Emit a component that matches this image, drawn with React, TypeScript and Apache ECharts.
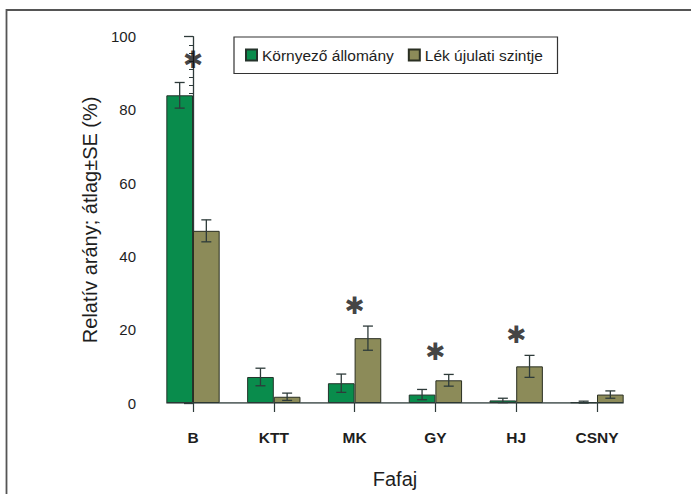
import React, { useEffect, useRef } from "react";
import * as echarts from "echarts";

const categories = ["B", "KTT", "MK", "GY", "HJ", "CSNY"];
const seriesNames = ["Környező állomány", "Lék újulati szintje"];
const surroundMean = [84, 7.1, 5.4, 2.3, 0.7, 0.2];
const surroundSE = [3.5, 2.4, 2.5, 1.4, 0.6, 0.3];
const gapMean = [47, 1.7, 17.7, 6.2, 10.0, 2.3];
const gapSE = [3.0, 1.0, 3.3, 1.6, 3.0, 1.0];
const starCategories = [0, 2, 3, 4];
const starLevels = [93.6, 26.6, 14.0, 18.7];
const yTicks = { min: 0, max: 100, interval: 20 };

const GREEN = "#098c4c";
const OLIVE = "#8c8b59";
const DARK = "#2e3b3a";
const TEXT = "#1e1e1e";
const SANS = "'Liberation Sans', Arial, sans-serif";
const GAP = 0.34;

export default function App() {
  const ref = useRef<HTMLDivElement>(null);
  useEffect(() => {
    if (!ref.current) return;
    const chart = echarts.init(ref.current, null, { renderer: "svg" });

    const errSeries = (means: number[], ses: number[], side: number) => ({
      type: "custom",
      xAxisIndex: 0,
      yAxisIndex: 0,
      silent: true,
      z: 5,
      data: means.map((m, i) => [i, m, ses[i]]),
      encode: { x: 0, y: 1 },
      renderItem: (params: any, api: any) => {
        const idx = api.value(0);
        const m = api.value(1);
        const se = api.value(2);
        const c = api.coord([idx, m]);
        const band = api.size([1, 0])[0];
        const bw = (band * (1 - GAP)) / 2;
        const x = c[0] + (side * bw) / 2;
        const yTop = api.coord([idx, m + se])[1];
        const yBot = api.coord([idx, Math.max(0, m - se)])[1];
        const hw = 5;
        const st = { stroke: DARK, lineWidth: 1.3 };
        return {
          type: "group",
          children: [
            { type: "line", shape: { x1: x, y1: yTop, x2: x, y2: yBot }, style: st },
            { type: "line", shape: { x1: x - hw, y1: yTop, x2: x + hw, y2: yTop }, style: st },
            { type: "line", shape: { x1: x - hw, y1: yBot, x2: x + hw, y2: yBot }, style: st },
          ],
        };
      },
    });

    chart.setOption({
      animation: false,
      backgroundColor: "#ffffff",
      graphic: [
        {
          type: "rect",
          shape: { x: 6.5, y: 10, width: 720, height: 520 },
          style: { fill: "none", stroke: "#555555", lineWidth: 1.8 },
          silent: true,
        },
        {
          type: "rect",
          shape: { x: 234, y: 37, width: 323.5, height: 36.5 },
          style: { fill: "none", stroke: "#333333", lineWidth: 1.2 },
          silent: true,
        },
      ],
      legend: {
        data: seriesNames,
        left: 245,
        top: 47,
        padding: 0,
        itemWidth: 11,
        itemHeight: 11,
        itemGap: 14,
        icon: "rect",
        textStyle: { fontFamily: SANS, fontSize: 15.5, color: TEXT },
      },
      grid: { left: 152.6, right: 53.6, top: 36.7, bottom: 88.3, containLabel: false },
      xAxis: [
        {
          type: "category",
          data: categories,
          boundaryGap: true,
          axisLine: { show: false },
          axisTick: { show: true, alignWithLabel: true, length: 9, lineStyle: { color: DARK, width: 1.2 } },
          axisLabel: { margin: 26, fontFamily: SANS, fontWeight: "bold", fontSize: 15.5, color: TEXT },
          name: "Fafaj",
          nameLocation: "middle",
          nameGap: 66,
          nameTextStyle: { fontFamily: SANS, fontSize: 20, color: TEXT },
          splitLine: { show: false },
        },
        { type: "value", min: -0.5, max: 5.5, show: false },
      ],
      yAxis: {
        type: "value",
        min: yTicks.min,
        max: yTicks.max,
        interval: yTicks.interval,
        offset: 4.6,
        axisLine: { show: true, lineStyle: { color: DARK, width: 1.3 } },
        axisTick: { show: true, length: 9, lineStyle: { color: DARK, width: 1.3 } },
        minorTick: { show: true, splitNumber: 9, length: 4, lineStyle: { color: DARK, width: 1 } },
        axisLabel: { margin: 12, fontFamily: SANS, fontSize: 15, color: TEXT },
        splitLine: { show: false },
        name: "Relatív arány; átlag±SE (%)",
        nameLocation: "middle",
        nameGap: 48,
        nameTextStyle: { fontFamily: SANS, fontSize: 20, color: TEXT },
      },
      series: [
        {
          name: seriesNames[0],
          type: "bar",
          data: surroundMean,
          barGap: "0%",
          barCategoryGap: GAP * 100 + "%",
          itemStyle: { color: GREEN, borderColor: "#24332b", borderWidth: 1 },
          z: 2,
        },
        {
          name: seriesNames[1],
          type: "bar",
          data: gapMean,
          barGap: "0%",
          barCategoryGap: GAP * 100 + "%",
          itemStyle: { color: OLIVE, borderColor: "#2a2f22", borderWidth: 1 },
          z: 2,
        },
        {
          type: "line",
          xAxisIndex: 1,
          yAxisIndex: 0,
          data: [
            [-0.5 + GAP / 2, 0],
            [categories.length - 0.5 - GAP / 2, 0],
          ],
          symbol: "none",
          silent: true,
          lineStyle: { color: DARK, width: 1.3 },
          z: 3,
        },
        errSeries(surroundMean, surroundSE, -1),
        errSeries(gapMean, gapSE, 1),
        {
          type: "scatter",
          data: starCategories.map((c, i) => [c, starLevels[i]]),
          symbolSize: 0,
          silent: true,
          label: {
            show: true,
            position: "inside",
            formatter: "✱",
            fontFamily: "'DejaVu Sans', sans-serif",
            fontSize: 24,
            color: "#111111",
          },
          z: 6,
        },
      ],
    });
    return () => chart.dispose();
  }, []);
  return (
    <div
      ref={ref}
      style={{ position: "fixed", left: 0, top: 0, width: 691, height: 494 }}
    />
  );
}
